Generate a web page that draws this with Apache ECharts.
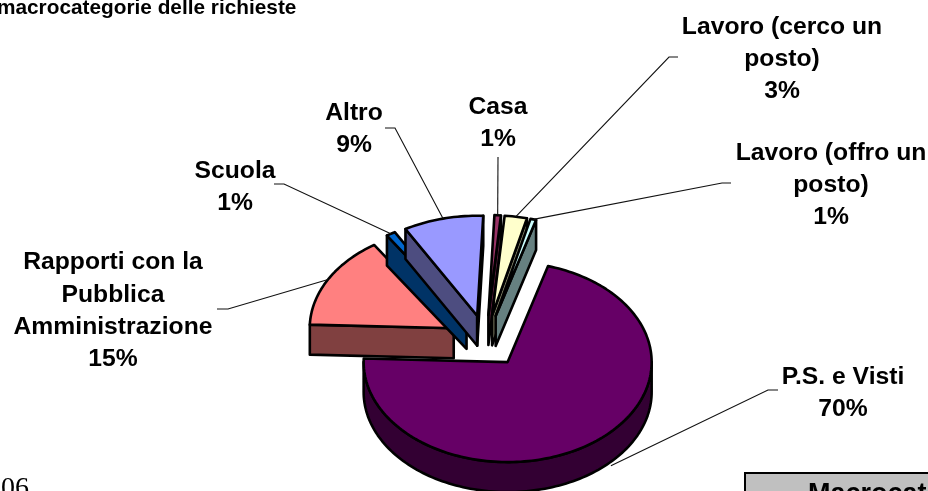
<!DOCTYPE html>
<html><head><meta charset="utf-8">
<style>html,body{margin:0;padding:0;background:#fff;overflow:hidden}#c{width:928px;height:491px}</style>
<script src="https://cdn.jsdelivr.net/npm/echarts@6/dist/echarts.min.js"></script>
</head><body><div id="c"></div>
<script>
const categories = ['P.S. e Visti','Rapporti con la\nPubblica\nAmministrazione','Scuola','Altro','Casa','Lavoro (cerco un\nposto)','Lavoro (offro un\nposto)'];
const values = [71.05, 15.1, 1.02, 8.97, 0.72, 2.5, 0.64];
const percentLabels = ['70%','15%','1%','9%','1%','3%','1%'];
const topColors = ['#660066','#FF8080','#0066CC','#9999FF','#993366','#FFFFCC','#CCFFFF'];
const sideColors = ['#330033','#804040','#003366','#4D4D80','#4D1A33','#808066','#668080'];
// layout
const labelPos = [[843,393],[113,311],[235,187],[354,129],[498,123],[782,59],[831,185]];
const elbow = [[[778,390],[768,390]],[[217,309],[228,309]],[[274,184],[284,184]],[[385,128],[395,128]],[[498,157]],[[678,57],[669,57]],[[731,183],[722,183]]];
const leaderTweak = [[-10,34],[0,0],[0,0],[0,0],[0,0],[0,0],[0,0]];
const startDeg = 16.3, CX = 486, CY = 341, RX = 144, RY = 100, DEPTH = 30, EX = 37, EY = 26;
const total = values.reduce((a,b)=>a+b,0);
const rad = d => d*Math.PI/180;
function sliceAngles(i){
  let a = startDeg;
  for(let k=0;k<i;k++) a += values[k]/total*360;
  return [a, a+values[i]/total*360];
}
function renderItem(params, api){
  const i = api.value(0);
  const [t1,t2] = sliceAngles(i);
  const mid = (t1+t2)/2;
  const ax = CX+EX*Math.sin(rad(mid)), ay = CY-EY*Math.cos(rad(mid));
  const P = t => [ax+RX*Math.sin(rad(t)), ay-RY*Math.cos(rad(t))];
  const down = p => [p[0],p[1]+DEPTH];
  const arc = (a,b) => { const n=Math.max(2,Math.ceil(Math.abs(b-a)/1.5)); const r=[]; for(let k=0;k<=n;k++) r.push(P(a+(b-a)*k/n)); return r; };
  const lineStyle = {stroke:'#000',lineWidth:2.6,lineJoin:'round'};
  const children = [];
  const apex=[ax,ay];
  const wall = pts => children.push({type:'polygon',shape:{points:pts},style:Object.assign({fill:sideColors[i]},lineStyle)});
  if(Math.sin(rad(t1))<0) wall([apex,P(t1),down(P(t1)),down(apex)]);
  if(Math.sin(rad(t2))>0) wall([apex,P(t2),down(P(t2)),down(apex)]);
  const f1=Math.max(t1,90), f2=Math.min(t2,270);
  if(f2>f1){ const top=arc(f1,f2); wall(top.concat(top.slice().reverse().map(down))); }
  children.push({type:'polygon',shape:{points:[apex].concat(arc(t1,t2))},style:Object.assign({fill:topColors[i]},lineStyle)});
  // leader
  const tw=leaderTweak[i];
  const an=P(mid+tw[0]); an[1]+=tw[1];
  children.push({type:'polyline',shape:{points:[an].concat(elbow[i].slice().reverse())},style:{stroke:'#111',lineWidth:1.1,fill:null}});
  // label
  children.push({type:'text',style:{text:categories[i]+'\n'+percentLabels[i],x:labelPos[i][0],y:labelPos[i][1],
    font:'bold 24.7px "Liberation Sans", Arial, sans-serif',fill:'#000',align:'center',verticalAlign:'middle',lineHeight:32.3}});
  return {type:'group',children};
}
const chart = echarts.init(document.getElementById('c'),null,{renderer:'canvas'});
chart.setOption({
  animation:false,
  backgroundColor:'#fff',
  series:[{type:'custom',coordinateSystem:'none',renderItem,silent:true,clip:false,
    data:values.map((v,i)=>[i,v])}],
  graphic:[
    {type:'text',left:-3,top:-2,style:{text:'macrocategorie delle richieste',font:'bold 20.8px "Liberation Sans", Arial, sans-serif',fill:'#000'}},
    {type:'text',left:1,top:475,style:{text:'06',font:'28px "Liberation Serif", "Times New Roman", serif',fill:'#000'}},
    {type:'rect',shape:{x:745,y:473,width:200,height:40},style:{fill:'#C0C0C0',stroke:'#000',lineWidth:2}},
    {type:'text',left:808,top:481,style:{text:'Macrocategorie',font:'bold 27px "Liberation Sans", Arial, sans-serif',fill:'#000'}}
  ]
});
</script></body></html>
